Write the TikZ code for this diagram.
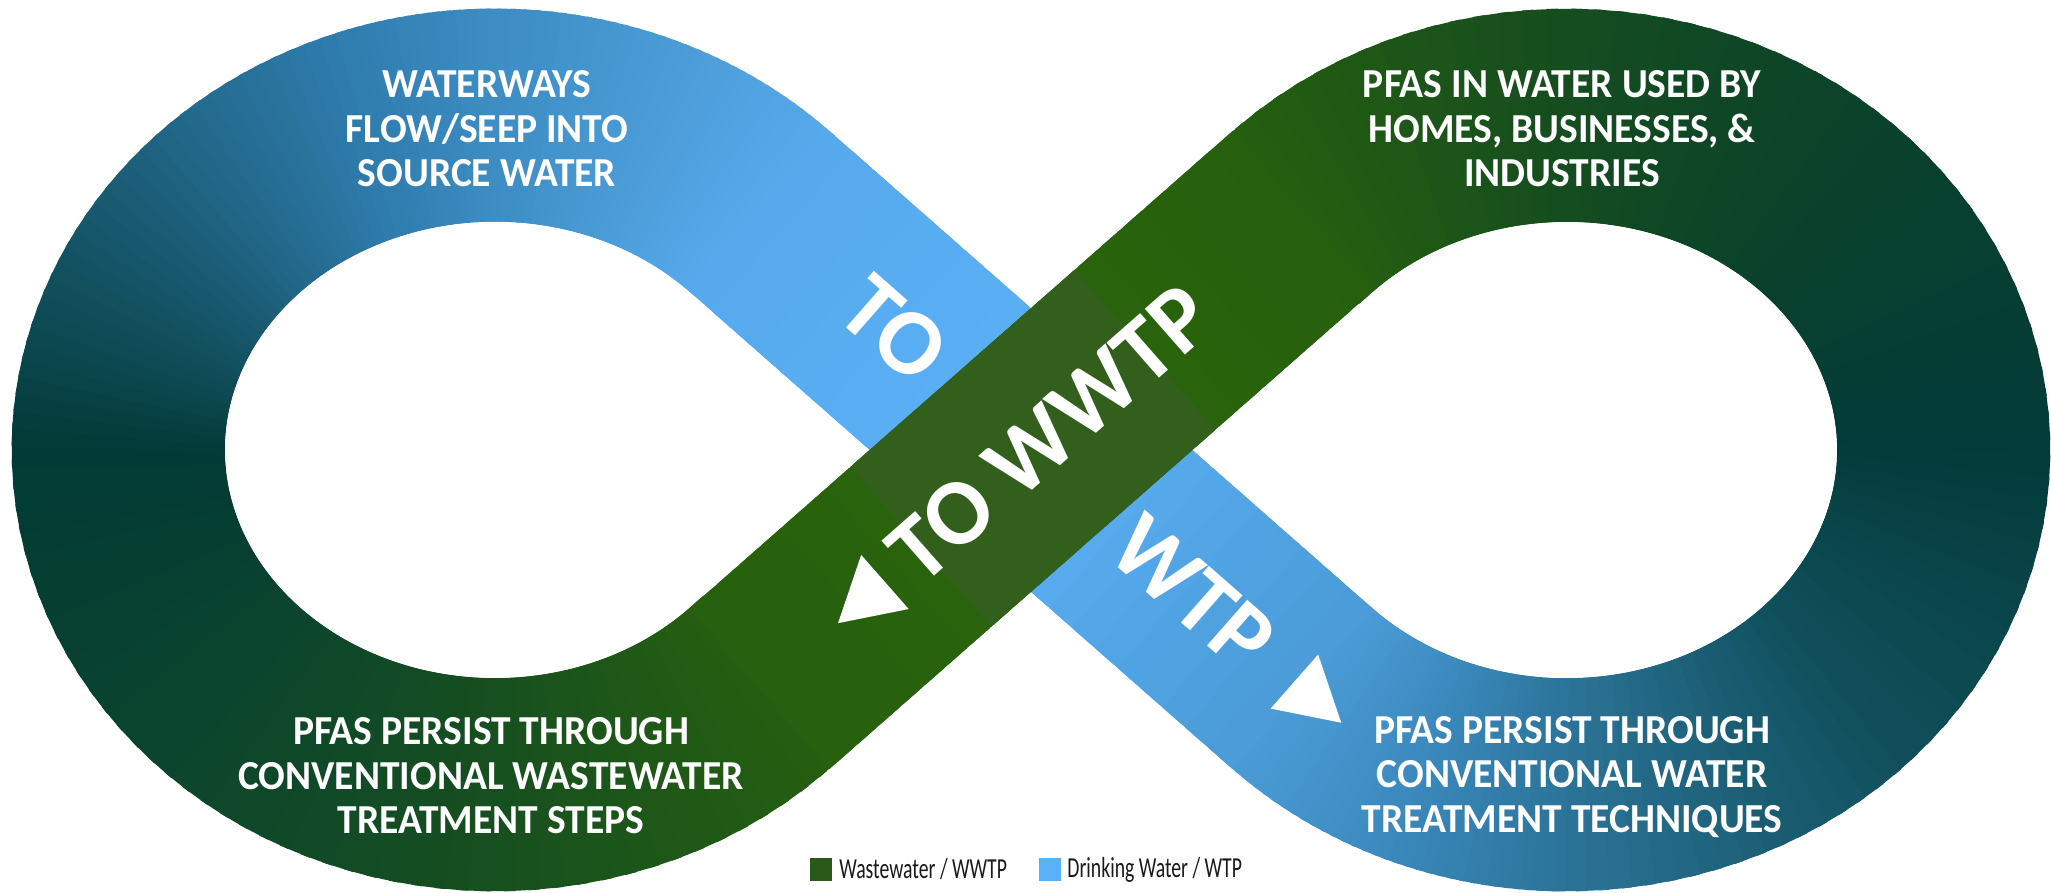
\documentclass[tikz,border=0pt]{standalone}
\usepackage{fontspec}
\setmainfont{Carlito}
\newfontfamily\labelfont{Carlito}[FakeStretch=0.96]
\newfontfamily\legendfont{Carlito}[FakeStretch=0.68]
\newfontfamily\bandfont{Carlito}
\definecolor{Lc0}{HTML}{27600F}
\definecolor{Lc1}{HTML}{174F1F}
\definecolor{Lc2}{HTML}{0B452D}
\definecolor{Lc3}{HTML}{023A36}
\definecolor{Lc4}{HTML}{1A5B73}
\definecolor{Lc5}{HTML}{2F7CAE}
\definecolor{Lc6}{HTML}{3D8CC3}
\definecolor{Lc7}{HTML}{4C9DD9}
\definecolor{Lc8}{HTML}{56A9EC}
\definecolor{Rc0}{HTML}{26600E}
\definecolor{Rc1}{HTML}{154C20}
\definecolor{Rc2}{HTML}{09412C}
\definecolor{Rc3}{HTML}{033B3A}
\definecolor{Rc4}{HTML}{10505B}
\definecolor{Rc5}{HTML}{2B7398}
\definecolor{Rc6}{HTML}{3A88BC}
\definecolor{Rc7}{HTML}{4A9BD7}
\definecolor{armB}{HTML}{5BB0F6}
\definecolor{armG}{HTML}{2B6508}
\definecolor{olivec}{HTML}{335F1C}
\definecolor{legG}{HTML}{2A5A1A}
\definecolor{legB}{HTML}{5BB1F7}
\definecolor{legT}{HTML}{1A1A1A}
% ellipse band run: cx, cy, t0, t1, colA, colB
\newcommand\looprun[6]{%
  \foreach \j in {0,...,15}{%
    \pgfmathsetmacro\ta{#3+(#4-#3)*\j/16}%
    \pgfmathsetmacro\tb{#3+(#4-#3)*(\j+1.8)/16}%
    \pgfmathtruncatemacro\mx{100-100*(\j+0.5)/16}%
    \draw[band,color=#5!\mx!#6] ({#1+377*cos(\ta)},{#2+335*sin(\ta)}) -- ({#1+377*cos(\tb)},{#2+335*sin(\tb)});%
  }%
}
% straight band run: x1, y1, x2, y2, colA, colB
\newcommand\armrun[6]{%
  \foreach \j in {0,...,11}{%
    \pgfmathsetmacro\fa{(\j-0.05)/12}%
    \pgfmathsetmacro\fb{min(1.004,(\j+1.8)/12)}%
    \pgfmathtruncatemacro\mx{100-100*(\j+0.5)/12}%
    \draw[band,color=#5!\mx!#6] ({#1+(#3-#1)*\fa},{#2+(#4-#2)*\fa}) -- ({#1+(#3-#1)*\fb},{#2+(#4-#2)*\fb});%
  }%
}
\begin{document}
\begin{tikzpicture}[x=0.5pt,y=-0.5pt,
  band/.style={line width=106.5pt, line cap=butt},
  lbl/.style={text=white, align=center, inner sep=0pt,
    font={\labelfont\bfseries\fontsize{20.6pt}{22.25pt}\selectfont}},
  bandtxt/.style={text=white, inner sep=0pt,
    font={\bandfont\bfseries\fontsize{47pt}{50pt}\selectfont}},
  legtxt/.style={text=legT, inner sep=0pt, anchor=west,
    font={\legendfont\fontsize{14.5pt}{16pt}\selectfont}}]
\useasboundingbox (0,0) rectangle (2051,893);
\fill[white] (0,0) rectangle (2051,893);
% key points
\coordinate (L) at (495,450);
\coordinate (R) at (1567,450);
\coordinate (X) at (1031,450);
% left loop (starts a little before the tangency, covered later by the arm)
\looprun{495}{450}{42.3}{90}{Lc0}{Lc1}
\looprun{495}{450}{90}{135}{Lc1}{Lc2}
\looprun{495}{450}{135}{180}{Lc2}{Lc3}
\looprun{495}{450}{180}{215}{Lc3}{Lc4}
\looprun{495}{450}{215}{250}{Lc4}{Lc5}
\looprun{495}{450}{250}{270}{Lc5}{Lc6}
\looprun{495}{450}{270}{295}{Lc6}{Lc7}
\looprun{495}{450}{295}{314.7}{Lc7}{Lc8}
% right loop
\looprun{1567}{450}{222.3}{270}{Rc0}{Rc1}
\looprun{1567}{450}{270}{315}{Rc1}{Rc2}
\looprun{1567}{450}{315}{360}{Rc2}{Rc3}
\looprun{1567}{450}{360}{405}{Rc3}{Rc4}
\looprun{1567}{450}{405}{450}{Rc4}{Rc5}
\looprun{1567}{450}{450}{472}{Rc5}{Rc6}
\looprun{1567}{450}{472}{494.7}{Rc6}{Rc7}
% blue arm (under)
\armrun{760.2}{211.9}{1031}{450}{Lc8}{armB}
\armrun{1031}{450}{1301.8}{688.1}{armB}{Rc7}
% green arm (over)
\armrun{1301.8}{211.9}{1031}{450}{Rc0}{armG}
\armrun{1031}{450}{760.2}{688.1}{armG}{Lc0}
% darker crossing section
\fill[olivec, shift={(1031,450)}, rotate=41.3] (-147,-106.5) rectangle (152,106.5);
% band texts
\node[bandtxt, rotate=-41.3] (to) at (893.6,329) {TO};
\node[bandtxt, rotate=-41.3] (wtp) at (1193,592.6) {WTP};
\node[bandtxt, rotate=41.3] (toww) at (1050,433.5) {TO WWTP};
\fill[white, shift={(869.3,595.7)}, rotate=41.3] (-41.6,0) -- (20.8,-36) -- (20.8,36) -- cycle;
\fill[white, shift={(1310,695.3)}, rotate=-41.3] (41.6,0) -- (-20.8,-36) -- (-20.8,36) -- cycle;
% labels
\node[lbl] (src) at (487,129) {WATERWAYS\\FLOW/SEEP INTO\\SOURCE WATER};
\node[lbl] (use) at (1562,129) {PFAS IN WATER USED BY\\HOMES, BUSINESSES, \&\\INDUSTRIES};
\node[lbl] (ww) at (491,776) {PFAS PERSIST THROUGH\\CONVENTIONAL WASTEWATER\\TREATMENT STEPS};
\node[lbl] (dw) at (1572,777) {PFAS PERSIST THROUGH\\CONVENTIONAL WATER\\TREATMENT TECHNIQUES};
% legend
\fill[legG] (810,858) rectangle (832,881);
\node[legtxt] (lg1) at (839,869.5) {Wastewater / WWTP};
\fill[legB] (1039,858) rectangle (1061,881);
\node[legtxt] (lg2) at (1067,869.5) {Drinking Water / WTP};
\end{tikzpicture}
\end{document}
